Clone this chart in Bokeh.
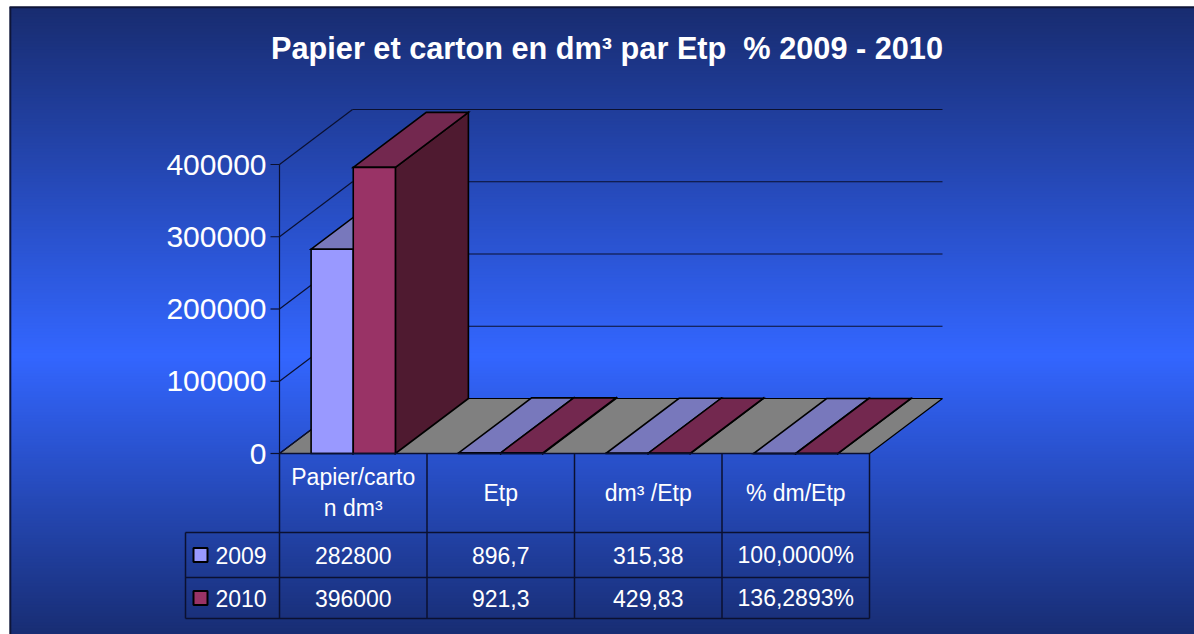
import numpy as np
from bokeh.plotting import figure
from bokeh.models import Range1d
from bokeh.core.properties import value
from bokeh.embed import file_html
from bokeh.resources import INLINE

# ---------------- data ----------------
title_text = "Papier et carton en dm³ par Etp  % 2009 - 2010"
categories = ["Papier/carton dm³", "Etp", "dm³ /Etp", "% dm/Etp"]
series_names = ["2009", "2010"]
values_2009 = [282800, 896.7, 315.38, 1.0]
values_2010 = [396000, 921.3, 429.83, 1.362893]
value_formats = ["int", "1", "2", "pct"]
y_ticks = [0, 100000, 200000, 300000, 400000]
y_tick_labels = ["0", "100000", "200000", "300000", "400000"]

series_values = [values_2009, values_2010]

# ---------------- styles ----------------
FONT = value("Liberation Sans")
front_colors = ["#9999ff", "#993366"]
top_colors = ["#7878bc", "#73284f"]
side_colors = ["#4d4d80", "#4f1a30"]
floor_color = "#808080"
line_dark = "#0b1030"

W, H = 1194, 634
CAT_PX = 147.5          # pixels per category
VAL_PX = 0.0007225      # pixels per value unit
X0_PX = 279             # frame x of category origin
Y0_PX = 453             # frame y of value 0

def px_x(px):
    return px / CAT_PX

def px_y(px):
    return px / VAL_PX

x_start, x_end = -px_x(X0_PX), px_x(W - X0_PX)
y_start, y_end = -px_y(H - Y0_PX), px_y(Y0_PX)

def fx(px):   # absolute frame x pixel -> data
    return x_start + px_x(px)

def fy(py):   # absolute frame y pixel (from top) -> data
    return y_end - px_y(py)

DX = px_x(73)
DY = px_y(55)
n_cat = len(categories)
n_ser = len(series_names)
gap = 1.5
bar_w = 1.0 / (n_ser + gap)

def fmt(v, kind):
    if kind == "int":
        s = f"{v:.0f}"
    elif kind == "pct":
        s = f"{v * 100:.4f}%"
    else:
        s = f"{v:.{int(kind)}f}"
    return s.replace(".", ",")

def wrap(label, n=12):
    return [label[:n], label[n:]] if len(label) > n else [label]

p = figure(width=W, height=H, x_range=Range1d(x_start, x_end), y_range=Range1d(y_start, y_end),
           x_axis_type=None, y_axis_type=None, toolbar_location=None, output_backend="svg",
           min_border=0, outline_line_color=None)
p.background_fill_color = "white"
p.border_fill_color = "white"

# ---------------- gradient background ----------------
A = np.array([24, 44, 112]); B = np.array([51, 102, 255]); C = np.array([24, 45, 115])
def grad(wy):
    if wy <= 355:
        t = max(0.0, (wy - 7) / 348.0); c = A + (B - A) * t
    else:
        t = min(1.0, (wy - 355) / 279.0); c = B + (C - B) * t
    return "#%02x%02x%02x" % tuple(int(round(v)) for v in c)

step = 3
tops, bots, cols = [], [], []
for ly in range(7, H, step):
    tops.append(fy(ly))
    bots.append(fy(ly + step + 1) if ly + step < H else fy(H + 20))
    cols.append(grad(ly + step / 2))
p.quad(left=fx(10), right=fx(W + 20), top=tops, bottom=bots, fill_color=cols, line_color=None)

# frame border (left and top)
p.segment(x0=[fx(9.8), fx(9)], y0=[fy(H + 20), fy(6.8)], x1=[fx(9.8), fx(W + 20)], y1=[fy(6.8), fy(6.8)],
          line_color="#0e1538", line_width=2)

# ---------------- floor ----------------
p.patch([0, n_cat, n_cat + DX, DX], [0, 0, DY, DY], fill_color=floor_color,
        line_color="black", line_width=1.2)

# ---------------- walls / gridlines ----------------
top_tick = y_ticks[-1]
p.segment(x0=[0] * len(y_ticks), y0=y_ticks, x1=[DX] * len(y_ticks), y1=[t + DY for t in y_ticks],
          line_color=line_dark, line_width=1.2)
p.segment(x0=[DX] * (len(y_ticks) - 1), y0=[t + DY for t in y_ticks[1:]],
          x1=[n_cat + DX] * (len(y_ticks) - 1), y1=[t + DY for t in y_ticks[1:]],
          line_color=line_dark, line_width=1.2)
p.segment(x0=[0], y0=[0], x1=[0], y1=[top_tick], line_color=line_dark, line_width=1.2)
p.segment(x0=[-px_x(9)] * len(y_ticks), y0=y_ticks, x1=[0] * len(y_ticks), y1=y_ticks,
          line_color=line_dark, line_width=1.2)
p.text(x=[-px_x(13)] * len(y_ticks), y=y_ticks, text=y_tick_labels, text_align="right",
       text_baseline="middle", text_color="white", text_font=FONT, text_font_size="30px")

# ---------------- bars ----------------
xs, ys, fills = [], [], []
for i in range(n_cat):
    for s in range(n_ser):
        v = series_values[s][i]
        x0 = i + bar_w * (gap / 2 + s)
        x1 = x0 + bar_w
        xs.append([x1, x1 + DX, x1 + DX, x1]); ys.append([0, DY, v + DY, v]); fills.append(side_colors[s])
        xs.append([x0, x1, x1 + DX, x0 + DX]); ys.append([v, v, v + DY, v + DY]); fills.append(top_colors[s])
        xs.append([x0, x1, x1, x0]); ys.append([0, 0, v, v]); fills.append(front_colors[s])
p.patches(xs, ys, fill_color=fills, line_color="black", line_width=1.6, line_join="miter")

# ---------------- data table ----------------
hdr_bot = -px_y(79)
r1_bot = -px_y(124)
r2_bot = -px_y(165)
leg_left = -px_x(94)

hx0 = [0, leg_left, leg_left, leg_left]
hy = [0, hdr_bot, r1_bot, r2_bot]
hx1 = [n_cat] * 4
p.segment(x0=hx0, y0=hy, x1=hx1, y1=hy, line_color=line_dark, line_width=1.5)
vx = [leg_left] + list(range(n_cat + 1))
vy0 = [hdr_bot] + [0] * (n_cat + 1)
p.segment(x0=vx, y0=vy0, x1=vx, y1=[r2_bot] * len(vx), line_color=line_dark, line_width=1.5)

# header labels
hx, hyy, htxt = [], [], []
for i, lab in enumerate(categories):
    lines = wrap(lab)
    n = len(lines)
    for j, ln in enumerate(lines):
        hx.append(i + 0.5)
        hyy.append(-px_y(39 + (j - (n - 1) / 2) * 31))
        htxt.append(ln)
p.text(x=hx, y=hyy, text=htxt, text_align="center", text_baseline="middle",
       text_color="white", text_font=FONT, text_font_size="23px")

# row values
row_mid = [-px_y(101.5), -px_y(144.5)]
cx, cy, ctxt = [], [], []
for s in range(n_ser):
    for i in range(n_cat):
        cx.append(i + 0.5); cy.append(row_mid[s]); ctxt.append(fmt(series_values[s][i], value_formats[i]))
p.text(x=cx, y=cy, text=ctxt, text_align="center", text_baseline="middle",
       text_color="white", text_font=FONT, text_font_size="23px")

# legend keys
p.scatter(x=[-px_x(79)] * n_ser, y=row_mid, marker="square", size=14,
          fill_color=front_colors, line_color="black", line_width=2)
p.text(x=[-px_x(64)] * n_ser, y=row_mid, text=series_names, text_align="left", text_baseline="middle",
       text_color="white", text_font=FONT, text_font_size="23px")

# ---------------- title ----------------
p.text(x=[fx(606.5)], y=[fy(48)], text=[title_text.replace("  ", " \u00a0")], text_align="center",
       text_baseline="middle", text_color="white", text_font=FONT, text_font_size="30.7px",
       text_font_style="bold")

open("out.html", "w").write(file_html(p, INLINE))
